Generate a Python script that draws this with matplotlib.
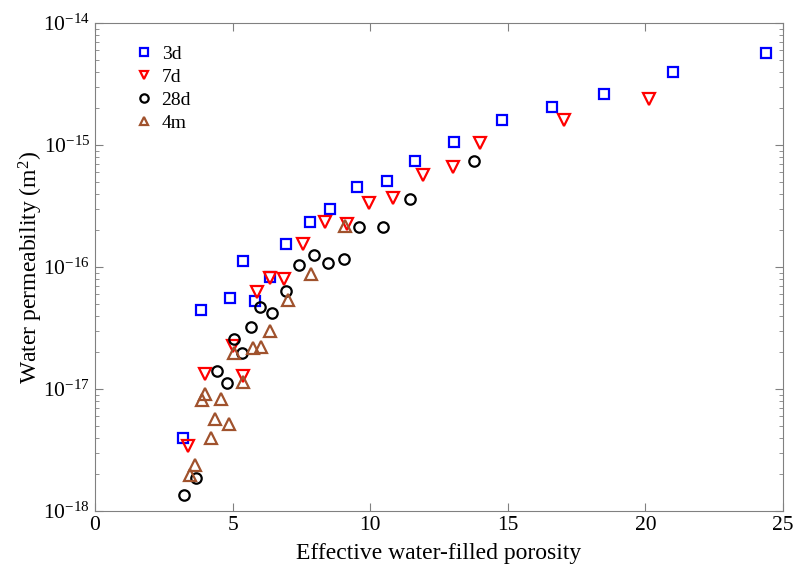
import matplotlib
matplotlib.use('Agg')
import matplotlib.pyplot as plt
from matplotlib.ticker import LogLocator, NullFormatter

# data: porosity (x) and permeability (y, m^2)
x_3d = [3.20, 3.86, 4.92, 5.39, 5.81, 6.36, 6.94, 7.81, 8.54, 9.53, 10.61, 11.62,
        13.03, 14.78, 16.61, 18.51, 21.01, 24.37]
y_3d = [3.98e-18, 4.45e-17, 5.55e-17, 1.11e-16, 5.24e-17, 8.35e-17, 1.55e-16, 2.36e-16,
        2.99e-16, 4.56e-16, 5.11e-16, 7.35e-16, 1.05e-15, 1.61e-15, 2.03e-15, 2.61e-15,
        3.96e-15, 5.67e-15]

x_7d = [3.39, 4.01, 5.03, 5.39, 5.88, 6.36, 6.87, 7.54, 8.36, 9.15, 9.96, 10.84,
        11.93, 13.02, 13.99, 17.05, 20.14]
y_7d = [3.42e-18, 1.34e-17, 2.26e-17, 1.28e-17, 6.29e-17, 8.20e-17, 7.96e-17, 1.55e-16,
        2.35e-16, 2.26e-16, 3.34e-16, 3.65e-16, 5.65e-16, 6.60e-16, 1.03e-15, 1.60e-15,
        2.39e-15]

x_28d = [3.22, 3.67, 4.42, 4.79, 5.05, 5.33, 5.67, 6.00, 6.44, 6.94, 7.41, 7.94,
         8.47, 9.03, 9.60, 10.48, 11.46, 13.77]
y_28d = [1.36e-18, 1.86e-18, 1.41e-17, 1.11e-17, 2.59e-17, 1.96e-17, 3.23e-17, 4.74e-17,
         4.21e-17, 6.41e-17, 1.03e-16, 1.26e-16, 1.08e-16, 1.16e-16, 2.11e-16, 2.11e-16,
         3.63e-16, 7.35e-16]

x_4m = [3.45, 3.64, 3.88, 4.00, 4.23, 4.37, 4.57, 4.86, 5.06, 5.39, 5.73, 6.02,
        6.36, 7.03, 7.83, 9.08]
y_4m = [1.96e-18, 2.37e-18, 8.16e-18, 9.10e-18, 4.00e-18, 5.73e-18, 8.27e-18, 5.21e-18,
        1.96e-17, 1.15e-17, 2.15e-17, 2.22e-17, 2.97e-17, 5.36e-17, 8.79e-17, 2.15e-16]

x_ticks = [0, 5, 10, 15, 20, 25]
y_ticks = [1e-18, 1e-17, 1e-16, 1e-15, 1e-14]

plt.rcParams['font.family'] = 'Liberation Serif'
plt.rcParams['mathtext.fontset'] = 'custom'
plt.rcParams['mathtext.rm'] = 'Liberation Serif'
plt.rcParams['mathtext.it'] = 'Liberation Serif:italic'

fig = plt.figure(figsize=(7.95, 5.72), dpi=100)
ax = fig.add_axes([0.1195, 0.1066, 0.8655, 0.8532])

ms = 7
mew = 1.6
ax.plot(x_3d, y_3d, 's', mfc='none', mec='#0000ff', ms=ms - 0.5, mew=mew, label='3d')
ax.plot(x_7d, y_7d, 'v', mfc='none', mec='#ff0000', ms=ms + 1, mew=mew, label='7d')
ax.plot(x_28d, y_28d, 'o', mfc='none', mec='black', ms=ms + 0.5, mew=mew, label='28d')
ax.plot(x_4m, y_4m, '^', mfc='none', mec='#a0522d', ms=ms + 1, mew=mew, label='4m')

ax.set_yscale('log')
ax.set_xlim(0, 25)
ax.set_ylim(1e-18, 1e-14)
ax.set_xticks(x_ticks)
ax.set_yticks(y_ticks)
ax.yaxis.set_minor_locator(LogLocator(base=10, subs=range(2, 10), numticks=10))
ax.yaxis.set_minor_formatter(NullFormatter())

ax.tick_params(which='both', direction='in', top=True, right=True,
               color='#808080', labelsize=15.5)
ax.tick_params(which='major', length=6)
ax.tick_params(which='minor', length=3)
for s in ax.spines.values():
    s.set_color('#808080')

ax.set_xlabel('Effective water-filled porosity', fontsize=17, labelpad=6)
ax.set_ylabel('Water permeability (m$^2$)', fontsize=17)
ax.yaxis.set_label_coords(-0.072, 0.5)

ax.legend(loc='upper left', frameon=False, fontsize=14, handletextpad=0.3,
          labelspacing=0.28, bbox_to_anchor=(0.029, 0.99), handlelength=1.2,
          markerscale=0.8)

fig.savefig('out.png', dpi=100)
